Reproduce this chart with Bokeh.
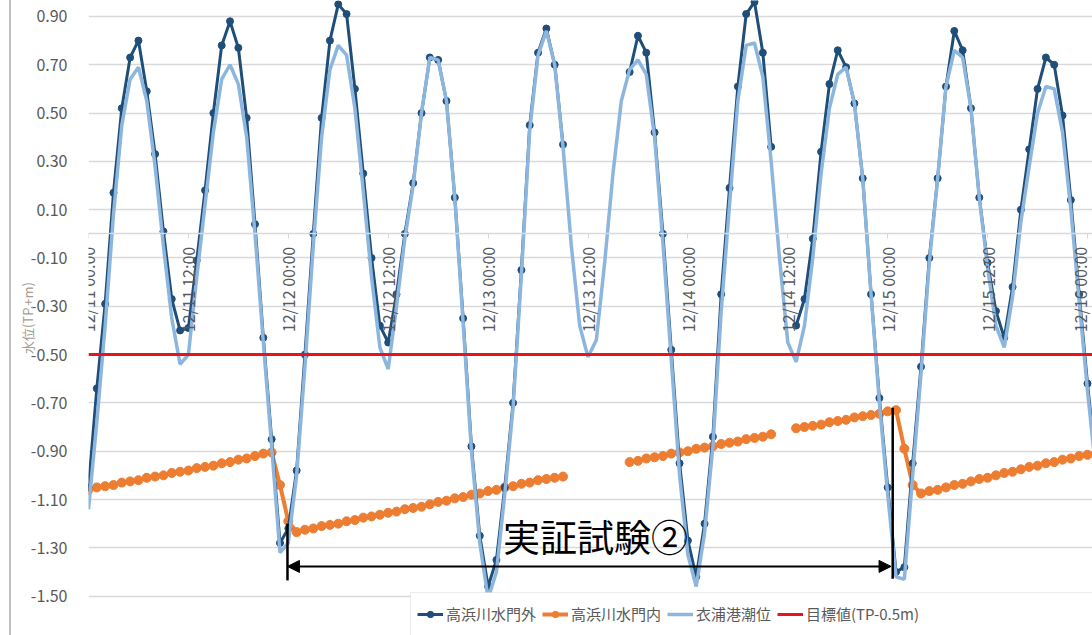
import math
from bokeh.plotting import figure
from bokeh.models import (FixedTicker, PrintfTickFormatter, Legend, LegendItem, Arrow,
                          NormalHead, Label, BoxAnnotation)
from bokeh.embed import file_html
from bokeh.resources import INLINE

NaN = float("nan")

# hours since 12/11 00:00
hours = list(range(122))

tick_hours = [0, 12, 24, 36, 48, 60, 72, 84, 96, 108, 120]
tick_labels = ["12/11 00:00", "12/11 12:00", "12/12 00:00", "12/12 12:00", "12/13 00:00",
               "12/13 12:00", "12/14 00:00", "12/14 12:00", "12/15 00:00", "12/15 12:00",
               "12/16 00:00"]
y_ticks = [-1.5, -1.3, -1.1, -0.9, -0.7, -0.5, -0.3, -0.1, 0.1, 0.3, 0.5, 0.7, 0.9]

# 高浜川水門外
outer = [-1.05, -0.64, -0.29, 0.17, 0.52, 0.73, 0.80, 0.59, 0.33, 0.01,
         -0.27, -0.40, -0.39, -0.11, 0.18, 0.50, 0.78, 0.88, 0.77, 0.48,
         0.04, -0.43, -0.85, -1.28, -1.22, -0.98, -0.50, 0.00, 0.48, 0.80,
         0.95, 0.91, 0.60, 0.25, -0.10, -0.38, -0.45, -0.25, 0.00, 0.21,
         0.50, 0.73, 0.72, 0.55, 0.15, -0.35, -0.88, -1.25, -1.46, -1.35,
         -1.05, -0.70, -0.15, 0.45, 0.75, 0.85, 0.70, 0.37, NaN, NaN,
         NaN, NaN, NaN, NaN, NaN, 0.67, 0.82, 0.75, 0.42, 0.00,
         -0.48, -0.95, -1.27, -1.42, -1.20, -0.84, -0.25, 0.19, 0.61, 0.91,
         0.96, 0.75, 0.36, NaN, NaN, -0.38, -0.27, -0.02, 0.34, 0.62,
         0.76, 0.69, 0.54, 0.23, -0.25, -0.68, -1.05, -1.40, -1.38, -0.95,
         -0.55, -0.10, 0.23, 0.61, 0.84, 0.76, 0.52, 0.15, -0.12, -0.32,
         -0.43, -0.22, 0.10, 0.35, 0.60, 0.73, 0.70, 0.49, 0.14, -0.25,
         -0.62, -0.95]

# 高浜川水門内
inner = [-1.06, -1.05, -1.045, -1.04, -1.03, -1.025, -1.02, -1.01, -1.005, -1.0,
         -0.99, -0.985, -0.98, -0.97, -0.965, -0.96, -0.95, -0.945, -0.935, -0.93,
         -0.92, -0.91, -0.905, -1.04, -1.19, -1.235, -1.225, -1.22, -1.21, -1.205,
         -1.2, -1.19, -1.185, -1.175, -1.17, -1.163, -1.155, -1.15, -1.14, -1.135,
         -1.13, -1.12, -1.11, -1.105, -1.095, -1.09, -1.08, -1.075, -1.065, -1.06,
         -1.05, -1.045, -1.035, -1.03, -1.02, -1.015, -1.01, -1.005, NaN, NaN,
         NaN, NaN, NaN, NaN, NaN, -0.945, -0.94, -0.93, -0.925, -0.92,
         -0.91, -0.905, -0.9, -0.89, -0.885, -0.88, -0.87, -0.865, -0.86, -0.85,
         -0.845, -0.84, -0.83, NaN, NaN, -0.805, -0.8, -0.795, -0.79, -0.78,
         -0.775, -0.77, -0.76, -0.755, -0.75, -0.745, -0.735, -0.73, -0.89, -1.04,
         -1.075, -1.065, -1.06, -1.05, -1.04, -1.035, -1.025, -1.015, -1.01, -1.0,
         -0.99, -0.985, -0.975, -0.965, -0.96, -0.95, -0.945, -0.935, -0.93, -0.92,
         -0.915, -0.91]

# 衣浦港潮位
tide = [-1.14, -0.78, -0.38, 0.08, 0.45, 0.64, 0.69, 0.55, 0.28, -0.05,
        -0.35, -0.54, -0.50, -0.18, 0.12, 0.42, 0.64, 0.70, 0.62, 0.40,
        0.00, -0.45, -0.88, -1.32, -1.28, -1.00, -0.55, -0.05, 0.40, 0.68,
        0.78, 0.74, 0.52, 0.18, -0.18, -0.47, -0.56, -0.30, -0.02, 0.20,
        0.50, 0.73, 0.72, 0.55, 0.15, -0.37, -0.90, -1.28, -1.51, -1.40,
        -1.08, -0.72, -0.17, 0.43, 0.74, 0.84, 0.70, 0.36, -0.05, -0.38,
        -0.51, -0.44, -0.12, 0.25, 0.55, 0.68, 0.72, 0.66, 0.40, -0.04,
        -0.52, -1.00, -1.33, -1.46, -1.24, -0.88, -0.32, 0.12, 0.55, 0.78,
        0.79, 0.65, 0.30, -0.10, -0.45, -0.53, -0.38, -0.10, 0.25, 0.52,
        0.66, 0.69, 0.54, 0.23, -0.25, -0.70, -1.08, -1.42, -1.43, -1.00,
        -0.58, -0.12, 0.23, 0.61, 0.76, 0.73, 0.52, 0.15, -0.14, -0.38,
        -0.47, -0.26, 0.05, 0.28, 0.50, 0.61, 0.60, 0.42, 0.10, -0.28,
        -0.65, -0.98]

# 目標値(TP-0.5m)
target_x = [0, 121]
target_y = [-0.5, -0.5]

# 実証試験② annotation (hours, level)
bracket_x = [23.9, 96.6]
bracket_top = [-1.20, -0.72]
bracket_bottom = [-1.435, -1.428]
arrow_level = -1.377
note_x = 49.8
note_y = -1.253

DARK = "#1f4e79"
ORANGE = "#ed7d31"
LIGHT = "#8db6de"
RED = "#e8141c"
TXT = "#595959"
FONT = "Noto Sans CJK JP"

p = figure(width=1092, height=635, x_range=(0, 120.6), y_range=(-1.663, 0.966),
           output_backend="svg", toolbar_location=None, title=None,
           min_border_left=88, min_border_right=0, min_border_top=0, min_border_bottom=0)
p.outline_line_color = None
p.border_fill_color = None
p.styles = {"background": "linear-gradient(to right, transparent 9px, #bfbfbf 9px, "
                          "#bfbfbf 11px, transparent 11px)"}

r_in_line = p.line(hours, inner, color=ORANGE, line_width=4)
r_in_pts = p.scatter(hours, inner, size=9, color=ORANGE)
r_out_line = p.line(hours, outer, color=DARK, line_width=3)
r_out_pts = p.scatter(hours, outer, size=7, color=DARK)
r_tide = p.line(hours, tide, color=LIGHT, line_width=3.5)
r_target = p.line(target_x, target_y, color=RED, line_width=3)

# x axis crossing at 0
xa = p.xaxis[0]
xa.fixed_location = 0
xa.ticker = FixedTicker(ticks=tick_hours)
xa.major_label_overrides = dict(zip(tick_hours, tick_labels))
xa.major_label_orientation = math.pi / 2
xa.major_label_text_font = FONT
xa.major_label_text_font_size = "16px"
xa.major_label_text_color = TXT
xa.major_label_standoff = 8
xa.axis_line_color = "#d9d9d9"
xa.axis_line_width = 1.5
xa.major_tick_line_color = "#d9d9d9"
xa.major_tick_in = 0
xa.major_tick_out = 5
xa.minor_tick_line_color = None

ya = p.yaxis[0]
ya.ticker = FixedTicker(ticks=y_ticks)
ya.formatter = PrintfTickFormatter(format="%.2f")
ya.axis_line_color = None
ya.major_tick_line_color = None
ya.minor_tick_line_color = None
ya.major_label_text_font = FONT
ya.major_label_text_font_size = "16px"
ya.major_label_text_color = TXT
ya.major_label_standoff = 15
ya.axis_label = "水位(TP.+m)"
ya.axis_label_text_font = FONT
ya.axis_label_text_font_size = "13px"
ya.axis_label_text_font_style = "normal"
ya.axis_label_text_color = "#a59d94"
ya.axis_label_standoff = -9

p.ygrid.ticker = FixedTicker(ticks=y_ticks)
p.ygrid.grid_line_color = "#d9d9d9"
p.ygrid.grid_line_width = 1.5
p.xgrid.grid_line_color = None

# annotation
p.segment(x0=bracket_x, y0=bracket_top, x1=bracket_x, y1=bracket_bottom,
          color="black", line_width=2.5)
p.add_layout(Arrow(start=NormalHead(size=12, fill_color="black", line_color="black"),
                   end=NormalHead(size=12, fill_color="black", line_color="black"),
                   x_start=bracket_x[0], y_start=arrow_level,
                   x_end=bracket_x[1] - 0.2, y_end=arrow_level,
                   line_color="black", line_width=2))
p.add_layout(Label(x=note_x, y=note_y, text="実証試験②", text_font=FONT,
                   text_font_size="37px", text_baseline="middle", text_color="black"))

# legend frame (extends past the chart's right and bottom edges, as in the source)
legend_box_left = 38.68
legend_box_top = -1.485
p.add_layout(BoxAnnotation(left=legend_box_left, right=130, top=legend_box_top, bottom=-2.0,
                           fill_color="white", fill_alpha=1,
                           line_color="#bfbfbf", line_width=1, level="annotation"))

legend = Legend(items=[
    LegendItem(label="高浜川水門外", renderers=[r_out_line, r_out_pts]),
    LegendItem(label="高浜川水門内", renderers=[r_in_line, r_in_pts]),
    LegendItem(label="衣浦港潮位", renderers=[r_tide]),
    LegendItem(label="目標値(TP-0.5m)", renderers=[r_target]),
], orientation="horizontal", location=(329, 11))
legend.label_text_font = FONT
legend.label_text_font_size = "15px"
legend.label_text_color = TXT
legend.glyph_width = 26
legend.glyph_height = 16
legend.label_standoff = 3
legend.spacing = 6
legend.padding = 10
legend.margin = 0
legend.border_line_color = None
legend.background_fill_alpha = 0
p.add_layout(legend)

open("out.html", "w").write(file_html(p, INLINE))
